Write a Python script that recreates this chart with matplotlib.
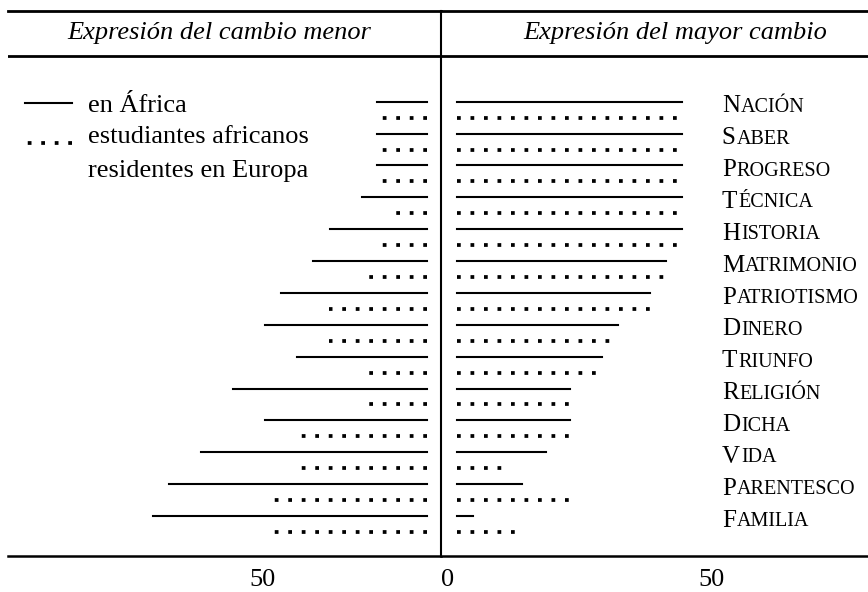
import matplotlib
matplotlib.use('Agg')
import matplotlib.pyplot as plt

categories = ['Nación', 'Saber', 'Progreso', 'Técnica', 'Historia', 'Matrimonio',
              'Patriotismo', 'Dinero', 'Triunfo', 'Religión', 'Dicha', 'Vida',
              'Parentesco', 'Familia']

# Expresión del cambio menor (lado izquierdo)
menor_africa = [18.1, 18.1, 18.1, 22.3, 31.2, 36.0, 44.9, 49.4, 40.5, 58.5, 49.4, 67.4, 76.3, 81.0]
menor_europa = [18.1, 18.1, 18.1, 13.5, 18.0, 22.3, 31.5, 31.5, 22.3, 22.3, 40.5, 40.5, 49.4, 49.4]
# Expresión del mayor cambio (lado derecho)
mayor_africa = [44.6, 44.6, 44.6, 44.6, 44.6, 41.7, 38.7, 32.8, 29.8, 23.9, 23.9, 19.4, 15.0, 5.9]
mayor_europa = [44.6, 44.6, 44.6, 44.6, 45.2, 42.0, 39.1, 31.7, 30.0, 24.3, 24.3, 12.4, 25.4, 15.2]

headers = ['Expresión del cambio menor', 'Expresión del mayor cambio']
legend_labels = ['en África', 'estudiantes africanos', 'residentes en Europa']

plt.rcParams['font.family'] = ['Liberation Serif', 'DejaVu Serif']
FS = 19
FS_BIG = 18
FS_SMALL = 14.5

fig = plt.figure(figsize=(8.68, 5.92), dpi=100)
W, H = 868.0, 592.0
y_bot, y_top = 556.0, 11.0
ax_l = fig.add_axes([8 / W, 1 - y_bot / H, (441 - 8) / W, (y_bot - y_top) / H])
ax_r = fig.add_axes([441 / W, 1 - y_bot / H, (W - 441) / W, (y_bot - y_top) / H])

ax_l.set_xlim((441 - 8) / 3.56, 0)
ax_r.set_xlim(0, (W - 441) / 5.4)
for ax in (ax_l, ax_r):
    ax.set_ylim(14.255, -2.846)
    ax.set_yticks([])
    ax.tick_params(axis='x', length=0, pad=9, labelsize=FS)
    ax.spines['top'].set_linewidth(2.0)
    ax.spines['bottom'].set_linewidth(1.8)
    ax.spines['right'].set_visible(False)
    ax.axhline(-1.434, color='black', lw=2.0)
ax_l.spines['left'].set_visible(False)
ax_r.spines['left'].set_linewidth(1.5)

ax_l.set_xticks([50])
ax_r.set_xticks([0, 50])
ax_r.get_xticklabels()[0].set_ha('left')

gap_l, gap_r = 3.93, 2.96
dots = dict(color='black', lw=2.7, linestyle=(0, (1, 2.6)), dash_capstyle='butt')
for i in range(len(categories)):
    ax_l.plot([gap_l, menor_africa[i]], [i, i], color='black', lw=1.5)
    ax_l.plot([gap_l, menor_europa[i]], [i + 0.5, i + 0.5], **dots)
    ax_r.plot([gap_r, mayor_africa[i]], [i, i], color='black', lw=1.5)
    ax_r.plot([gap_r, mayor_europa[i]], [i + 0.5, i + 0.5], **dots)

    # etiquetas en versalitas
    name = categories[i]
    t1 = ax_r.text(52.0, i + 0.335, name[0].upper(), fontsize=FS_BIG, va='baseline', ha='left')
    ax_r.annotate(name[1:].upper(), xy=(1, 0), xycoords=t1, xytext=(0.8, 0.22 * FS_BIG),
                  textcoords='offset points', fontsize=FS_SMALL, va='baseline', ha='left')

# cabeceras
ax_l.text(62.4, -1.96, headers[0], fontsize=FS, style='italic', ha='center', va='baseline')
ax_r.text(43.3, -1.96, headers[1], fontsize=FS, style='italic', ha='center', va='baseline')

# leyenda
ax_l.plot([116.9, 103.7], [0.03, 0.03], color='black', lw=1.5)
ax_l.plot([103.7, 116.9], [1.30, 1.30], **dots)
ax_l.text(99.2, 0.31, legend_labels[0], fontsize=FS, va='baseline', ha='left')
ax_l.text(99.2, 1.31, legend_labels[1], fontsize=FS, va='baseline', ha='left')
ax_l.text(99.2, 2.35, legend_labels[2], fontsize=FS, va='baseline', ha='left')

plt.savefig('out.png', dpi=100)
